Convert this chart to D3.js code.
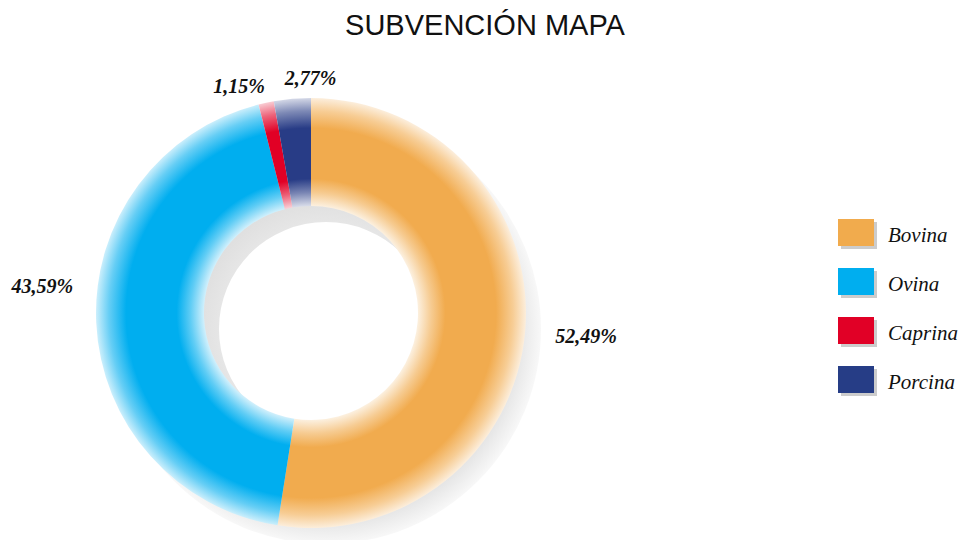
<!DOCTYPE html>
<html>
<head>
<meta charset="utf-8">
<script src="https://cdn.jsdelivr.net/npm/d3@7"></script>
<style>
  body { margin: 0; background: #fff; }
  svg { display: block; }
</style>
</head>
<body>
<svg width="961" height="540"></svg>
<script>
(function (d3) {
    'use strict';

    // data
    const categories = ['Bovina', 'Ovina', 'Caprina', 'Porcina'];
    const shares = [52.49, 43.59, 1.15, 2.77];
    const colors = ['#F1AB4E', '#00AEEF', '#E10025', '#283C86'];
    const title = 'SUBVENCIÓN MAPA';

    // small hand nudges for the value labels (layout only)
    const labelNudge = [[0, 4], [7, -38], [5, 13], [-5, 9]];

    const cx = 311, cy = 313;
    const outerR = 215, innerR = 107, labelR = 245;

    const svg = d3.select('svg');
    const defs = svg.append('defs');

    const locale = d3.formatLocale({decimal: ',', thousands: '.', grouping: [3], currency: ['', '€']});
    const pct = v => locale.format('.2f')(v) + '%';

    const legendShadow = defs.append('filter').attr('id', 'legshadow')
        .attr('x', '-20%').attr('y', '-20%').attr('width', '150%').attr('height', '150%');
    legendShadow.append('feOffset').attr('in', 'SourceAlpha').attr('dx', 3).attr('dy', 3).attr('result', 'o');
    legendShadow.append('feComponentTransfer').attr('in', 'o').attr('result', 'os')
        .append('feFuncA').attr('type', 'linear').attr('slope', 0.2);
    const lm = legendShadow.append('feMerge');
    lm.append('feMergeNode').attr('in', 'os');
    lm.append('feMergeNode').attr('in', 'SourceGraphic');

    // grey gradient for the offset shadow ring
    const sg = defs.append('radialGradient')
        .attr('id', 'shadowgrad')
        .attr('gradientUnits', 'userSpaceOnUse')
        .attr('cx', 0).attr('cy', 0).attr('r', outerR);
    [[innerR / outerR, '#e6e6e6'], [0.62, '#dedede'], [0.88, '#e2e2e2'], [1, '#f8f8f8']]
        .forEach(([o, c]) => sg.append('stop').attr('offset', o).attr('stop-color', c));

    // ring gradients: pale at the edges, full colour in the middle
    const stops = [
        [innerR / outerR, 0.18],
        [0.56, 0.62],
        [0.625, 1],
        [0.86, 1],
        [0.94, 0.6],
        [1, 0.2]
    ];
    colors.forEach((c, i) => {
        const g = defs.append('radialGradient')
            .attr('id', 'grad' + i)
            .attr('gradientUnits', 'userSpaceOnUse')
            .attr('cx', 0).attr('cy', 0).attr('r', outerR);
        stops.forEach(([o, t]) => {
            g.append('stop')
                .attr('offset', o)
                .attr('stop-color', d3.interpolateRgb('#ffffff', c)(t));
        });
    });

    svg.append('text')
        .attr('x', 485)
        .attr('y', 35)
        .attr('text-anchor', 'middle')
        .style('font-family', '"Liberation Sans", Arial, sans-serif')
        .style('font-size', '29px')
        .style('fill', '#111')
        .text(title);

    const pie = d3.pie().sort(null).value(d => d)(shares);
    const arc = d3.arc().innerRadius(innerR).outerRadius(outerR);

    // shadow ring, offset down and right
    svg.append('path')
        .attr('transform', `translate(${cx + 15},${cy + 16})`)
        .attr('d', arc({startAngle: 0, endAngle: 2 * Math.PI}))
        .attr('fill', 'url(#shadowgrad)');

    const chart = svg.append('g').attr('transform', `translate(${cx},${cy})`);

    chart.append('g')
        .selectAll('path')
        .data(pie)
        .enter().append('path')
        .attr('d', arc)
        .attr('fill', (d, i) => `url(#grad${i})`);

    chart.selectAll('text.value')
        .data(pie)
        .enter().append('text')
        .attr('class', 'value')
        .each(function (d, i) {
            const a = (d.startAngle + d.endAngle) / 2;
            const x = labelR * Math.sin(a) + labelNudge[i][0];
            const y = -labelR * Math.cos(a) + labelNudge[i][1];
            const anchor = i === 0 || i === 3 ? 'start' : 'end';
            d3.select(this)
                .attr('x', x)
                .attr('y', y)
                .attr('dy', '0.35em')
                .attr('text-anchor', anchor);
        })
        .style('font-family', '"Liberation Serif", "Times New Roman", serif')
        .style('font-style', 'italic')
        .style('font-weight', 'bold')
        .style('font-size', '20px')
        .style('fill', '#111')
        .text(d => pct(d.data));

    // legend
    const legend = svg.append('g').attr('transform', 'translate(838,219)');
    const item = legend.selectAll('g')
        .data(categories)
        .enter().append('g')
        .attr('transform', (d, i) => `translate(0,${i * 49})`);

    item.append('rect')
        .attr('width', 36)
        .attr('height', 27)
        .attr('fill', (d, i) => colors[i])
        .attr('filter', 'url(#legshadow)');

    item.append('text')
        .attr('x', 50)
        .attr('y', 23)
        .style('font-family', '"Liberation Serif", "Times New Roman", serif')
        .style('font-style', 'italic')
        .style('font-size', '21px')
        .style('fill', '#111')
        .text(d => d);

}(d3));
</script>
</body>
</html>
